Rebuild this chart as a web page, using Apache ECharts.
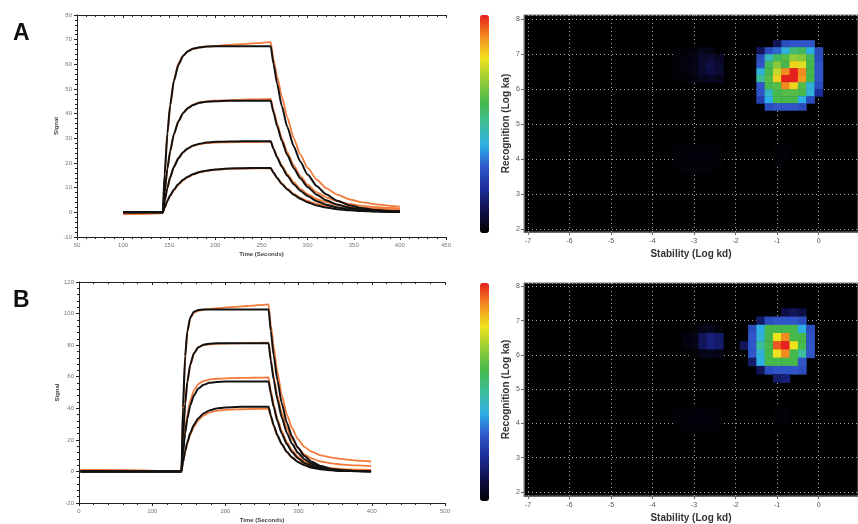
<!DOCTYPE html>
<html><head><meta charset="utf-8">
<script src="https://cdn.jsdelivr.net/npm/echarts@6/dist/echarts.min.js"></script>
<style>html,body{margin:0;padding:0;background:#fff}#c{width:858px;height:524px}</style>
</head><body><div id="c"></div>
<script>
// ---------- Panel A sensorgram (time in seconds, signal) ----------
const tA = [100, 143, 145, 148, 151, 155, 160, 165, 170, 176, 183, 190, 200, 215, 230, 245, 260,
            263, 267, 272, 278, 285, 292, 300, 310, 320, 332, 345, 360, 375, 390, 400];
const fitA1 = [0,0, 15.4,32.2,43.5,53.2,59.9,63.4,65.3,66.4,66.9,67.2,67.3,67.3,67.3,67.3,67.3, 60.2,52.0,43.1,34.6,26.7,20.6,15.3,10.6,7.3,4.7,2.9,1.7,0.9,0.5,0.4];
const fitA2 = [0,0, 8.2,17.8,24.9,31.6,36.9,40.2,42.2,43.5,44.4,44.8,45.05,45.2,45.2,45.2,45.2, 40.5,34.9,29.0,23.2,17.9,13.8,10.3,7.1,4.9,3.2,1.9,1.1,0.6,0.4,0.3];
const fitA3 = [0,0, 4.5,10.0,14.2,18.4,22.0,24.4,25.9,27.1,27.8,28.3,28.6,28.7,28.8,28.8,28.8, 25.8,22.2,18.5,14.8,11.4,8.8,6.6,4.5,3.1,2.0,1.2,0.7,0.4,0.2,0.2];
const fitA4 = [0,0, 2.0,4.7,6.9,9.2,11.5,13.2,14.4,15.5,16.4,16.9,17.4,17.8,17.9,18.0,18.0, 16.1,13.9,11.5,9.3,7.1,5.5,4.1,2.8,2.0,1.3,0.8,0.5,0.3,0.1,0.1];
const obsA1 = [-0.6,-0.3, 14.5,31.5,43,53.5,60.5,63.5,65.2,66.2,66.8,67.2,67.5,67.9,68.2,68.6,69.0, 62,55,47,38.5,30,23.5,18,13.2,9.8,7.2,5.3,4,3.2,2.6,2.3];
const obsA2 = [-0.6,-0.3, 7.8,17.5,24.5,31.5,37,40.3,42.3,43.7,44.6,45.0,45.3,45.5,45.7,45.8,46.0, 41.5,36,30,24.3,19,14.8,11.2,8.1,6.1,4.5,3.4,2.6,2.1,1.8,1.6];
const obsA3 = [-0.6,-0.3, 4.3,9.7,14.0,18.2,21.8,24.2,25.8,27.0,27.7,28.1,28.3,28.4,28.5,28.5,28.6, 25.8,22.5,19,15.5,12.2,9.6,7.4,5.4,4.1,3.0,2.3,1.8,1.5,1.3,1.2];
const obsA4 = [-0.6,-0.3, 1.8,4.4,6.6,8.9,11.2,12.9,14.2,15.3,16.2,16.8,17.3,17.6,17.7,17.8,17.8, 16,13.9,11.7,9.6,7.5,6,4.6,3.4,2.6,2.0,1.6,1.3,1.1,1.0,0.9];

// ---------- Panel B sensorgram ----------
const tB = [2, 140, 142, 145, 148, 152, 157, 163, 170, 178, 188, 200, 215, 230, 245, 259,
            262, 266, 271, 277, 284, 291, 299, 308, 318, 330, 345, 360, 380, 399];
const fitB1 = [0,0, 40.4,73.1,88.8,97.5,101.2,102.3,102.6,102.6,102.6,102.6,102.6,102.6,102.6,102.6, 88.9,73.4,57.7,43.2,30.9,22.1,15.1,9.7,6.1,3.4,1.6,0.8,0.3,0.1];
const fitB2 = [0,0, 21.0,42.9,56.8,67.8,74.9,78.6,80.3,80.9,81.2,81.2,81.2,81.2,81.2,81.2, 70.3,58.1,45.6,34.2,24.4,17.5,11.9,7.7,4.8,2.7,1.3,0.6,0.2,0.1];
const fitB3 = [0,0, 11.2,24.1,33.3,41.8,48.2,52.5,54.9,56.1,56.7,57.0,57.0,57.0,57.0,57.0, 49.4,40.8,32.0,24.0,17.2,12.3,8.4,5.4,3.4,1.9,0.9,0.4,0.2,0.1];
const fitB4 = [0,0, 5.7,12.8,18.5,24.3,29.6,33.7,36.7,38.6,39.9,40.5,40.8,41.0,41.0,41.0, 35.5,29.3,23.0,17.3,12.3,8.8,6.0,3.9,2.4,1.4,0.7,0.3,0.1,0.0];
const obsB1 = [0.8,0.2, 38,71,88,97,100.5,101.8,102.4,102.8,103.3,103.8,104.3,104.8,105.3,105.8, 93,79,63,48.5,36,27.5,20.5,15.5,12.5,10.2,8.8,7.8,6.9,6.3];
const obsB2 = [0.8,0.2, 20,42,56,67,74.5,78.5,80,80.5,80.8,81.0,81.2,81.3,81.5,81.6, 71.5,60,48,37,27.5,20.5,15,10.8,8.2,6.3,5.1,4.3,3.8,3.4];
const obsB3 = [0.8,0.2, 12,26,36,45,51.5,55.3,57.3,58.2,58.7,59.0,59.2,59.3,59.4,59.5, 51.5,42.5,33.5,25.5,18.5,13.5,9.5,6.5,4.5,3.0,2.0,1.4,1.1,1.0];
const obsB4 = [0.8,0.2, 5.4,12.2,17.6,23.3,28.4,32.4,35.3,37.2,38.4,39.0,39.3,39.5,39.6,39.7, 34.5,28.5,22.5,17,12.3,9,6.3,4.3,2.9,1.9,1.2,0.8,0.6,0.5];

// ---------- Panel A heat map (log kd, log ka, density 0-100) ----------
const hAx = [-1.4, -1.2, -1.0, -0.8, -0.6, -0.4, -0.2, 0];
const hAy = [7.3, 7.1, 6.9, 6.7, 6.5, 6.3, 6.1, 5.9, 5.7, 5.5];
const hA = [
  [0, 0, 12, 28, 30, 30, 30, 0],
  [12, 28, 32, 42, 55, 58, 40, 28],
  [28, 45, 58, 62, 70, 68, 58, 28],
  [30, 58, 68, 60, 82, 78, 60, 30],
  [42, 60, 75, 90, 100, 90, 60, 30],
  [50, 62, 82, 100, 100, 88, 60, 30],
  [30, 60, 62, 90, 82, 62, 42, 28],
  [30, 45, 60, 62, 62, 60, 42, 20],
  [25, 40, 60, 60, 60, 40, 28, 0],
  [0, 28, 30, 30, 30, 28, 0, 0]
];
const fAx = [-3.4, -3.2, -3.0, -2.8, -2.6, -2.4];
const fAy = [7.1, 6.9, 6.7, 6.5, 6.3];
const fA = [
  [1, 1, 2, 4, 3, 0],
  [1, 2, 3, 6, 7, 5],
  [1, 2, 3, 7, 10, 7],
  [1, 2, 3, 6, 9, 7],
  [1, 1, 2, 4, 5, 4]
];
const gAx = [-3.4, -3.2, -3.0, -2.8, -2.6, -2.4, -1.0, -0.8];
const gAy = [4.3, 4.1, 3.9, 3.7];
const gA = [
  [1, 1, 1.5, 1.5, 1, 1, 1, 1],
  [1, 1.5, 1.5, 1.5, 1.5, 1, 1, 1],
  [1, 1, 1.5, 1.5, 1, 1, 1, 0.5],
  [0.5, 1, 1, 1, 1, 0.5, 0, 0]
];

// ---------- Panel B heat map ----------
const hBx = [-1.8, -1.6, -1.4, -1.2, -1.0, -0.8, -0.6, -0.4, -0.2];
const hBy = [7.24, 7.0, 6.76, 6.52, 6.28, 6.04, 5.8, 5.56, 5.32];
const hB = [
  [0, 0, 0, 0, 0, 10, 12, 10, 0],
  [0, 0, 14, 28, 30, 30, 30, 28, 0],
  [0, 28, 40, 60, 60, 60, 60, 40, 28],
  [0, 30, 42, 60, 80, 90, 60, 60, 30],
  [12, 30, 50, 60, 95, 100, 80, 60, 30],
  [0, 30, 42, 60, 80, 90, 60, 50, 30],
  [0, 14, 40, 60, 60, 60, 60, 30, 0],
  [0, 0, 12, 28, 30, 30, 30, 28, 0],
  [0, 0, 0, 0, 14, 16, 0, 0, 0]
];
const fBx = [-3.2, -3.0, -2.8, -2.6, -2.4];
const fBy = [6.76, 6.52, 6.28, 6.04];
const fB = [
  [0, 1, 3, 4, 2],
  [2, 3, 12, 16, 14],
  [2, 3, 12, 16, 14],
  [0, 1, 3, 4, 3]
];
const gBx = [-3.4, -3.2, -3.0, -2.8, -2.6, -2.4, -1.0, -0.8];
const gBy = [4.36, 4.12, 3.88];
const gB = [
  [1, 1, 1.5, 1.5, 1, 1, 1, 1],
  [1, 1.5, 1.5, 1.5, 1.5, 1, 1, 1],
  [0.5, 1, 1, 1, 1, 0.5, 0.5, 0.5]
];

const jet = ['#000000','#0f0f48','#1c2c98','#2f55c8','#2eaee6','#3dbd9c','#46b84c','#96cd36','#f0e31e','#f38c20','#e6201e'];
const ORANGE = '#f27a3a', BLACK = '#111111';

function cells(xs, ys, m) {
  const out = [];
  ys.forEach((y, r) => xs.forEach((x, c) => { if (m[r][c] > 0) out.push([x, y, m[r][c]]); }));
  return out;
}
function lineSeries(t, v, color, w, xi, yi, z) {
  return { type: 'line', xAxisIndex: xi, yAxisIndex: yi, data: t.map((x, i) => [x, v[i]]),
    symbol: 'none', showSymbol: false, smooth: 0.2, smoothMonotone: 'x', silent: true, z: z,
    lineStyle: { color: color, width: w }, itemStyle: { color: color } };
}
function cellSeries(data, w, h, xi, yi) {
  return { type: 'custom', xAxisIndex: xi, yAxisIndex: yi, data: data, silent: true,
    renderItem: function (params, api) {
      const c = api.coord([api.value(0), api.value(1)]);
      const s = api.size([w, h]);
      return { type: 'rect', shape: { x: c[0] - s[0] / 2, y: c[1] - s[1] / 2, width: s[0] + 0.5, height: s[1] + 0.5 },
        style: { fill: api.visual('color') } };
    } };
}
function lineX(grid, min, max, interval, top, name) {
  return { type: 'value', gridIndex: grid, min: min, max: max, interval: interval, position: top ? 'top' : 'bottom',
    axisLine: { show: true, onZero: false, lineStyle: { color: '#222', width: 1 } },
    axisTick: { show: true, length: 3, inside: top, lineStyle: { color: '#222' } },
    minorTick: { show: true, splitNumber: 5, length: 2, lineStyle: { color: '#222' } },
    splitLine: { show: false },
    axisLabel: { show: !top, fontSize: 6, color: '#777', margin: 5 },
    name: top ? '' : name, nameLocation: 'middle', nameGap: 14,
    nameTextStyle: { fontSize: 6, fontWeight: 'bold', color: '#444' } };
}
function lineY(grid, min, max, interval) {
  return { type: 'value', gridIndex: grid, min: min, max: max, interval: interval,
    axisLine: { show: true, onZero: false, lineStyle: { color: '#222', width: 1 } },
    axisTick: { show: true, length: 3, lineStyle: { color: '#222' } },
    minorTick: { show: true, splitNumber: 5, length: 2, lineStyle: { color: '#222' } },
    splitLine: { show: false },
    axisLabel: { fontSize: 6, color: '#777', margin: 5 },
    name: 'Signal', nameLocation: 'middle', nameGap: 17, nameRotate: 90,
    nameTextStyle: { fontSize: 6, fontWeight: 'bold', color: '#444' } };
}
function heatX(grid) {
  return { type: 'value', gridIndex: grid, min: -7.1, max: 0.95, minInterval: 1, maxInterval: 1,
    axisLine: { show: true, onZero: false, lineStyle: { color: '#666' } },
    axisTick: { show: true, length: 3, lineStyle: { color: '#666' } },
    axisLabel: { fontSize: 7, color: '#555', margin: 6, showMinLabel: false, showMaxLabel: false },
    splitLine: { show: true, lineStyle: { color: '#a8a8a8', type: [1, 3], width: 1 } },
    name: 'Stability (Log kd)', nameLocation: 'middle', nameGap: 17,
    nameTextStyle: { fontSize: 10, fontWeight: 'bold', color: '#333', fontFamily: 'Arial' } };
}
function heatY(grid, min, max) {
  return { type: 'value', gridIndex: grid, min: min, max: max, minInterval: 1, maxInterval: 1,
    axisLine: { show: true, onZero: false, lineStyle: { color: '#666' } },
    axisTick: { show: true, length: 3, lineStyle: { color: '#666' } },
    axisLabel: { fontSize: 7, color: '#555', margin: 4, showMinLabel: false, showMaxLabel: false },
    splitLine: { show: true, lineStyle: { color: '#a8a8a8', type: [1, 3], width: 1 } },
    name: 'Recognition (Log ka)', nameLocation: 'middle', nameGap: 13, nameRotate: 90,
    nameTextStyle: { fontSize: 10, fontWeight: 'bold', color: '#333', fontFamily: 'Arial' } };
}

const series = [
  lineSeries(tA, obsA1, ORANGE, 1.8, 0, 0, 2), lineSeries(tA, obsA2, ORANGE, 1.8, 0, 0, 2),
  lineSeries(tA, obsA3, ORANGE, 1.8, 0, 0, 2), lineSeries(tA, obsA4, ORANGE, 1.8, 0, 0, 2),
  lineSeries(tA, fitA1, BLACK, 2, 0, 0, 3), lineSeries(tA, fitA2, BLACK, 2, 0, 0, 3),
  lineSeries(tA, fitA3, BLACK, 2, 0, 0, 3), lineSeries(tA, fitA4, BLACK, 2, 0, 0, 3),
  lineSeries(tB, obsB1, ORANGE, 1.8, 2, 1, 2), lineSeries(tB, obsB2, ORANGE, 1.8, 2, 1, 2),
  lineSeries(tB, obsB3, ORANGE, 1.8, 2, 1, 2), lineSeries(tB, obsB4, ORANGE, 1.8, 2, 1, 2),
  lineSeries(tB, fitB1, BLACK, 2, 2, 1, 3), lineSeries(tB, fitB2, BLACK, 2, 2, 1, 3),
  lineSeries(tB, fitB3, BLACK, 2, 2, 1, 3), lineSeries(tB, fitB4, BLACK, 2, 2, 1, 3),
  cellSeries(cells(hAx, hAy, hA).concat(cells(fAx, fAy, fA), cells(gAx, gAy, gA)), 0.2, 0.2, 4, 2),
  cellSeries(cells(hBx, hBy, hB).concat(cells(fBx, fBy, fB), cells(gBx, gBy, gB)), 0.2, 0.24, 5, 3)
];

const chart = echarts.init(document.getElementById('c'), null, { renderer: 'canvas' });
chart.setOption({
  animation: false,
  backgroundColor: '#ffffff',
  textStyle: { fontFamily: 'Arial, Liberation Sans, sans-serif' },
  title: [
    { text: 'A', left: 8, top: 17, textStyle: { fontSize: 23, fontWeight: 'bold', color: '#111', fontFamily: 'Arial' } },
    { text: 'B', left: 8, top: 284, textStyle: { fontSize: 23, fontWeight: 'bold', color: '#111', fontFamily: 'Arial' } }
  ],
  grid: [
    { left: 77, top: 15, width: 369, height: 222 },
    { left: 79, top: 282, width: 366, height: 222 },
    { left: 524, top: 15, right: 0, height: 217, show: true, backgroundColor: '#000', borderColor: '#777', borderWidth: 1 },
    { left: 524, top: 283, right: 0, height: 217, show: true, backgroundColor: '#000', borderColor: '#777', borderWidth: 1 }
  ],
  xAxis: [
    lineX(0, 50, 450, 50, false, 'Time (Seconds)'), lineX(0, 50, 450, 50, true, ''),
    lineX(1, 0, 500, 100, false, 'Time (Seconds)'), lineX(1, 0, 500, 100, true, ''),
    heatX(2), heatX(3)
  ],
  yAxis: [
    lineY(0, -10, 80, 10), lineY(1, -20, 120, 20),
    heatY(2, 1.92, 8.12), heatY(3, 1.88, 8.1)
  ],
  visualMap: [
    { type: 'continuous', min: 0, max: 100, dimension: 2, seriesIndex: 16, calculable: false, realtime: false,
      inRange: { color: jet }, itemWidth: 9, itemHeight: 218, left: 480, top: 15, padding: 0, showLabel: false, text: null,
      hoverLink: false },
    { type: 'continuous', min: 0, max: 100, dimension: 2, seriesIndex: 17, calculable: false, realtime: false,
      inRange: { color: jet }, itemWidth: 9, itemHeight: 218, left: 480, top: 283, padding: 0, showLabel: false, text: null,
      hoverLink: false }
  ],
  series: series
});
</script></body></html>
